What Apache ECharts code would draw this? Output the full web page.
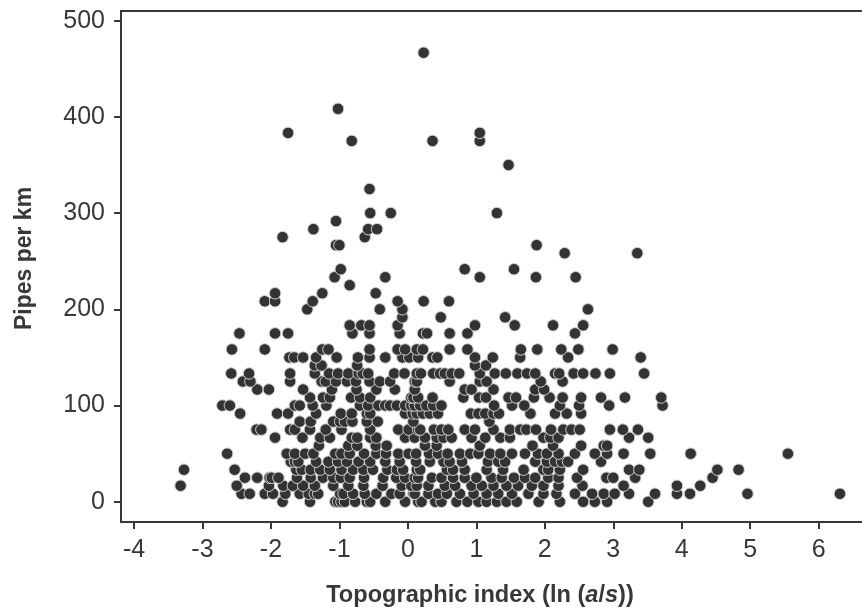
<!DOCTYPE html>
<html>
<head>
<meta charset="utf-8">
<style>html,body{margin:0;padding:0;background:#fff}#c{width:862px;height:612px}</style>
<script src="https://cdn.jsdelivr.net/npm/echarts@6/dist/echarts.min.js"></script>
</head>
<body>
<div id="c"></div>
<script>
const xTicks = [-4,-3,-2,-1,0,1,2,3,4,5,6];
const yTicks = [0,100,200,300,400,500];
const x0 = [-1.83,-1.43,-1.06,-1.02,-0.97,-0.92,-0.77,-0.60,-0.55,-0.33,-0.04,0.15,0.20,0.40,0.49,0.71,0.87,1.03,1.15,1.30,1.44,1.59,1.91,2.22,2.56,2.73,2.91,3.51];
const x8 = [-2.43,-2.31,-2.09,-1.97,-1.79,-1.58,-1.45,-1.36,-1.31,-0.99,-0.94,-0.80,-0.63,-0.46,-0.24,-0.12,0.08,0.10,0.30,0.44,0.57,0.76,0.96,1.15,1.32,1.52,1.76,1.98,2.17,2.44,2.69,2.86,3.02,3.23,3.61,3.93,4.12,4.96,6.31];
const x17 = [-3.32,-2.50,-2.03,-1.82,-1.68,-1.53,-1.36,-1.09,-0.87,-0.65,-0.37,-0.09,0.05,0.13,0.30,0.54,0.69,0.93,1.08,1.25,1.44,1.61,1.81,1.98,2.20,2.55,3.15,3.93,4.27];
const x25 = [-2.38,-2.20,-2.02,-1.99,-1.89,-1.62,-1.42,-1.24,-1.09,-0.98,-0.85,-0.64,-0.36,-0.17,-0.04,0.10,0.15,0.35,0.49,0.66,0.83,1.00,1.22,1.37,1.55,1.71,1.86,2.05,2.20,2.47,2.90,3.00,3.32,4.45];
const x33 = [-3.27,-2.53,-1.63,-1.55,-1.42,-1.28,-1.14,-0.97,-0.80,-0.65,-0.51,-0.30,-0.16,-0.07,0.13,0.18,0.57,0.66,0.83,1.15,1.39,1.69,1.98,2.05,2.22,2.56,3.23,3.38,4.52,4.83];
const x42 = [-1.71,-1.65,-1.60,-1.34,-1.16,-1.02,-0.89,-0.72,-0.55,-0.33,-0.12,0.12,0.32,0.52,0.61,0.79,1.17,1.32,1.42,1.86,2.03,2.15,2.25,2.34,2.82];
const x50 = [-2.64,-1.77,-1.65,-1.50,-1.38,-1.06,-0.97,-0.85,-0.64,-0.46,-0.32,-0.14,0.01,0.12,0.31,0.44,0.58,0.76,0.91,1.03,1.20,1.35,1.52,1.71,1.90,2.03,2.20,2.44,2.73,2.91,3.15,3.54,4.13,5.55];
const x58 = [-1.30,-0.87,-0.74,-0.47,-0.31,0.25,0.42,1.05,1.82,2.12,2.53,2.86,2.91];
const x67 = [-1.94,-1.54,-1.28,-1.14,-0.82,-0.74,-0.55,-0.46,-0.04,0.10,0.25,0.42,0.52,0.64,0.93,1.13,1.35,1.49,1.98,2.08,2.20,3.23,3.51];
const x75 = [-2.21,-2.14,-1.72,-1.65,-1.43,-1.20,-0.97,-0.55,-0.14,0.01,0.15,0.18,0.38,0.49,0.59,0.83,0.98,1.25,1.49,1.64,1.73,1.87,2.09,2.27,2.39,2.51,2.95,3.14,3.36];
const x83 = [-1.58,-1.42,-1.09,-0.99,-0.92,-0.81,-0.60,-0.44,0.08,1.19];
const x92 = [-2.45,-1.91,-1.75,-1.34,-0.98,-0.82,-0.60,-0.55,-0.04,0.07,0.13,0.22,0.32,0.44,0.92,1.03,1.13,1.25,1.33,1.79,2.15,2.32,2.53];
const x100 = [-2.71,-2.60,-1.65,-1.58,-1.39,-1.19,-0.70,-0.58,-0.43,-0.33,-0.26,-0.16,-0.04,0.05,0.10,0.18,0.27,0.37,0.49,1.26,1.52,1.70,2.22,2.50,2.94,3.72];
const x108 = [-1.43,-1.24,-1.14,-0.83,-0.70,-0.55,0.05,0.08,0.15,0.36,0.81,1.04,1.14,1.47,1.58,1.84,2.07,2.26,2.53,2.82,3.17,3.70];
const x117 = [-2.20,-2.03,-1.53,-1.11,-0.75,-0.46,-0.19,0.10,0.83,0.93,1.25,1.86,1.99];
const x125 = [-2.41,-2.30,-1.72,-1.26,-1.20,-1.05,-0.89,-0.76,-0.56,-0.41,-0.26,0.10,0.13,0.61,1.05,1.15,1.94,2.26];
const x133 = [-2.58,-2.32,-1.72,-1.36,-1.15,-1.02,-0.87,-0.72,-0.66,-0.58,-0.20,-0.05,0.13,0.19,0.37,0.47,0.54,0.64,0.75,1.05,1.27,1.43,1.60,1.74,1.86,2.15,2.21,2.42,2.56,2.74,2.95,3.45];
const x142 = [-1.36,-1.26,-0.74,0.98,1.14];
const x150 = [-1.73,-1.66,-1.53,-1.34,-1.04,-0.73,-0.56,-0.33,-0.08,0.02,0.15,0.36,0.43,0.98,1.24,1.64,2.34,3.40];
const x158 = [-2.57,-2.09,-1.25,-1.16,-0.56,-0.15,-0.04,0.13,0.22,0.61,0.87,1.65,1.89,2.24,2.49,2.99];
const x175 = [-2.46,-1.94,-1.75,-0.81,-0.56,-0.12,0.22,0.28,0.61,0.87,2.44];
const x183 = [-0.85,-0.68,-0.56,-0.15,0.98,1.56,2.12,2.56];
const x192 = [-0.08,0.48,1.42];
const x200 = [-1.47,-0.41,-0.08,2.63];
const x208 = [-2.09,-1.94,-1.39,-0.15,0.23,0.60];
const x217 = [-1.94,-1.25,-0.47];
const x225 = [-0.85];
const x233 = [-1.07,-0.33,1.05,1.87,2.45];
const x242 = [-0.98,0.83,1.55];
const x258 = [2.29,3.35];
const x267 = [-1.05,-1.00,1.88];
const x275 = [-1.83,-0.63];
const x283 = [-1.38,-0.58,-0.45];
const x292 = [-1.05];
const x300 = [-0.55,-0.25,1.30];
const x325 = [-0.56];
const x350 = [1.47];
const x375 = [-0.82,0.36,1.05];
const x383 = [-1.75,1.05];
const x408 = [-1.02];
const x467 = [0.23];
const levels = [0,8.33,16.67,25,33.33,41.67,50,58.33,66.67,75,83.33,91.67,100,108.33,116.67,125,133.33,141.67,150,158.33,175,183.33,191.67,200,208.33,216.67,225,233.33,241.67,258.33,266.67,275,283.33,291.67,300,325,350,375,383.33,408.33,466.67];
const rows = [x0,x8,x17,x25,x33,x42,x50,x58,x67,x75,x83,x92,x100,x108,x117,x125,x133,x142,x150,x158,x175,x183,x192,x200,x208,x217,x225,x233,x242,x258,x267,x275,x283,x292,x300,x325,x350,x375,x383,x408,x467];
const points = [];
rows.forEach((r,i)=>r.forEach(x=>points.push([x,levels[i]])));

const ink = '#383838';
const font = '"Liberation Sans", Arial, sans-serif';
const chart = echarts.init(document.getElementById('c'), null, {renderer:'canvas'});
chart.setOption({
  animation:false,
  backgroundColor:'#fff',
  grid:{left:121,top:11,right:-6,bottom:90,show:true,borderColor:ink,borderWidth:2,backgroundColor:'transparent',outerBoundsMode:'none'},
  xAxis:{
    type:'value',min:-4.19,max:6.72,
    name:'{b|Topographic index (ln (}{i|a}{b|/}{i|s}{b|))}',
    nameLocation:'middle',nameGap:61,
    nameTextStyle:{
      padding:[0,29,0,0],
      rich:{
        b:{fontFamily:font,fontWeight:'bold',fontSize:23.6,color:ink},
        i:{fontFamily:font,fontWeight:'bold',fontStyle:'italic',fontSize:23.6,color:ink}
      }
    },
    axisLine:{show:true,onZero:false,lineStyle:{color:ink,width:2}},
    axisTick:{show:true,length:7,customValues:xTicks,lineStyle:{color:ink,width:2}},
    axisLabel:{customValues:xTicks,margin:16,fontFamily:font,fontSize:25,color:ink,showMinLabel:true,showMaxLabel:true},
    splitLine:{show:false}
  },
  yAxis:{
    type:'value',min:-21,max:510,
    name:'Pipes per km',
    nameLocation:'middle',nameGap:85,nameRotate:90,
    nameTextStyle:{fontFamily:font,fontWeight:'bold',fontSize:23,color:ink,padding:[0,0,0,16]},
    axisLine:{show:true,onZero:false,lineStyle:{color:ink,width:2}},
    axisTick:{show:true,length:7,customValues:yTicks,lineStyle:{color:ink,width:2}},
    axisLabel:{customValues:yTicks,margin:16,fontFamily:font,fontSize:25,color:ink},
    splitLine:{show:false}
  },
  series:[{
    type:'scatter',data:points,symbol:'circle',symbolSize:11.5,clip:false,
    itemStyle:{color:'#333333',borderColor:'#d0d0d0',borderWidth:1,opacity:1}
  }]
});
</script>
</body>
</html>
